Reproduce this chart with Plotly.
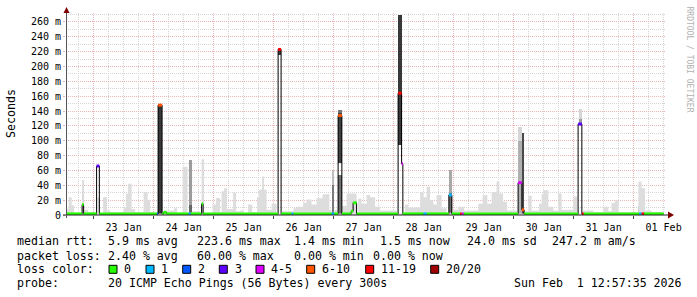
import plotly.graph_objects as go
import pandas as pd

# ---------------- data ----------------
BASE = pd.Timestamp("2026-01-23 00:00:00")          # hours below are relative to this
T_END = pd.Timestamp("2026-02-01 12:57:35")
T_START = T_END - pd.Timedelta(days=10)

# light "smoke" envelope (upper edge, ms) starting at each hour mark
smoke_h = [-10.8, -10.0, -8.8, -7.8, -6.2, -4.6, -3.8, -2.2, 0.6, 1.6, 2.4, 3.8, 5.4, 6.6,
           12.2, 13.0, 13.8, 15.2, 16.6, 20.0, 21.6, 22.6, 25.4, 28.2, 32.2, 33.4, 35.6, 37.6,
           39.4, 42.6, 43.2, 44.2, 47.6, 49.0, 50.6, 51.2, 52.2, 53.4, 55.8, 57.0, 58.6, 59.8,
           61.8, 63.4, 65.4, 66.2, 67.4, 68.2, 69.2, 71.2, 73.2, 75.2, 79.9, 81.2, 83.9, 85.2,
           87.2, 89.2, 91.6, 94.3, 95.2, 96.3, 97.9, 99.3, 101.2, 105.2, 105.8, 107.2, 109.2,
           110.6, 112.6, 114.6, 121.4, 124.6, 125.8, 130.6, 131.9, 133.2, 134.6, 135.9, 137.2,
           139.2, 141.2, 143.9, 145.9, 148.2, 153.9, 155.6, 157.5, 159.2, 161.2, 162.3, 163.8,
           165.4, 169.4, 172.2, 173.9, 175.2, 178.2, 179.2, 179.9, 181.9, 183.9, 185.9, 187.2,
           191.9, 193.5, 195.6, 199.9, 203.9, 205.9, 207.2, 208.6, 209.9, 217.9, 219.2, 220.6,
           223.2]
smoke_ms = [8, 24, 13, 3, 2, 47, 7, 4, 2, 24, 2, 24, 6, 4,
            10, 29, 42, 8, 4, 31, 20, 4, 2, 6, 9, 3, 65, 3,
            5, 2, 75, 3, 14, 23, 4, 32, 36, 8, 30, 5, 6, 3,
            14, 4, 24, 34, 52, 34, 7, 15, 2, 5, 9, 11, 17, 21,
            14, 22.5, 28, 7, 2, 7, 2, 12, 29, 3, 22, 15, 27,
            24, 11, 6, 2, 14, 10, 31, 24, 38, 20, 14, 27,
            9, 3, 7, 11, 6, 15, 27, 15, 31, 45, 29, 18,
            6, 2, 5, 26, 6, 15, 28, 33.5, 11, 6, 29, 7,
            25, 2, 6, 4, 11, 5, 16.5, 20, 4, 45, 36, 6,
            4]
SMOKE_END_H = 228.0

# denser smoke blocks around the spikes
blk_start = [-4.6, 25.8, 38.0, 38.0, 43.2, 73.8, 95.2, 95.2, 97.8, 97.8, 97.8, 121.8,
             142.1, 142.1, 169.9, 169.9, 171.3, 194.0, 194.0, 217.9]
blk_end = [-3.8, 27.4, 39.4, 39.4, 44.2, 75.0, 96.3, 96.3, 99.3, 99.3, 99.3, 123.2,
           143.3, 143.3, 171.3, 171.3, 172.2, 195.4, 195.4, 219.2]
blk_lo = [20, 0, 13, 0, 8, 215, 40, 0, 137, 70, 0, 94, 30, 0, 100, 0, 0, 129, 121, 0]
blk_hi = [32, 150, 74, 13, 20, 224, 61, 40, 141, 137, 54, 270, 60, 30, 119, 100, 111, 143, 129, 12]
blk_shade = ["#a8a8a8", "#383838", "#9c9c9c", "#666666", "#b4b4b4", "#3c3c3c", "#bdbdbd",
             "#7a7a7a", "#777777", "#404040", "#6e6e6e", "#383838", "#a8a8a8", "#6a6a6a",
             "#d6d6d6", "#b0b0b0", "#4a4a4a", "#d6d6d6", "#999999", "#bbbbbb"]

# median rtt segments: start hour, value (ms), loss class index
med_h = [-10.8, -4.6, -4.0, 1.2, 2.3, 25.4, 25.8, 27.4, 28.0, 29.2, 38.0, 38.8, 43.2, 43.8,
         73.8, 75.0, 79.2, 79.9, 95.2, 96.2, 97.8, 99.3, 103.0, 103.8, 105.2, 121.8, 123.2,
         123.7, 132.0, 133.2, 142.1, 143.3, 146.6, 147.2, 148.0, 169.8, 171.3, 172.2, 193.8,
         195.3, 196.0, 218.2, 219.2, 220.2]
med_ms = [1.5, 14, 1.5, 66, 1.5, 1.5, 148, 1.5, 3.5, 1.5, 1.5, 1.5, 15, 1.5,
          223, 1.5, 1.5, 1.5, 1.5, 1.5, 134, 1.5, 5, 16.5, 1.5, 164, 69,
          1.5, 1.5, 1.5, 27, 1.5, 1.5, 1.5, 1.5, 43.5, 7, 1.5, 122.5,
          1.5, 1.5, 1.5, 1.5, 1.5]
med_loss = [0, 0, 0, 3, 0, 2, 5, 0, 0, 0, 1, 0, 0, 0,
            6, 0, 1, 0, 1, 0, 5, 0, 0, 0, 0, 6, 4,
            0, 1, 0, 1, 0, 6, 4, 0, 4, 5, 0, 3,
            6, 0, 1, 6, 0]
MED_END_H = 228.0

loss_labels = ["0", "1", "2", "3", "4-5", "6-10", "11-19", "20/20"]
loss_colors = ["#26ff00", "#00b8ff", "#0059ff", "#5e00ff", "#dd00ff", "#ff5500", "#ff0000", "#a10000"]

y_tickvals = [0, 20, 40, 60, 80, 100, 120, 140, 160, 180, 200, 220, 240, 260]
y_ticktext = ["0", "20 m", "40 m", "60 m", "80 m", "100 m", "120 m", "140 m", "160 m",
              "180 m", "200 m", "220 m", "240 m", "260 m"]

rtt_stats = ["5.9 ms avg", "223.6 ms max", "1.4 ms min", "1.5 ms now", "24.0 ms sd", "247.2 m am/s"]
loss_stats = ["2.40 % avg", "60.00 % max", "0.00 % min", "0.00 % now"]
probe_text = "20 ICMP Echo Pings (56 Bytes) every 300s"
stamp_text = "Sun Feb\u00a0\u00a01 12:57:35 2026"

# ---------------- layout helpers ----------------
W, H = 697, 297
ML, MR, MT, MB = 66, 31, 13, 82
PW, PH = W - ML - MR, H - MT - MB
Y_TOP = 272.1
MONO = "DejaVu Sans Mono"


def px(x):
    return (x - ML) / PW


def py(y):
    return (H - MB - y) / PH


def T(h):
    return BASE + pd.Timedelta(hours=h)


fig = go.Figure()

# light smoke envelope
sx = [T(h) for h in smoke_h] + [T(SMOKE_END_H)]
sy = list(smoke_ms) + [smoke_ms[-1]]
fig.add_trace(go.Scatter(x=sx, y=sy, mode="lines", line=dict(width=0, shape="hv"),
                         fill="tozeroy", fillcolor="#dddddd", hoverinfo="skip"))

# denser smoke blocks
fig.add_trace(go.Bar(
    x=[T((s + e) / 2) for s, e in zip(blk_start, blk_end)],
    y=[h - l for l, h in zip(blk_lo, blk_hi)],
    base=blk_lo,
    width=[(e - s) * 3600 * 1000 for s, e in zip(blk_start, blk_end)],
    marker=dict(color=blk_shade, line=dict(width=0)),
    opacity=1, hoverinfo="skip"))

# black median step line
mx = [T(h) for h in med_h] + [T(MED_END_H)]
my = list(med_ms) + [med_ms[-1]]
fig.add_trace(go.Scatter(x=mx, y=my, mode="lines", line=dict(color="#000000", width=1, shape="hv"),
                         hoverinfo="skip"))

# loss-coloured median segments
for k, col in enumerate(loss_colors):
    xs, ys = [], []
    for i, lc in enumerate(med_loss):
        if lc == k:
            xs += [mx[i], mx[i + 1], None]
            ys += [med_ms[i], med_ms[i], None]
    if xs:
        fig.add_trace(go.Scatter(x=xs, y=ys, mode="lines", line=dict(color=col, width=3),
                                 connectgaps=False, hoverinfo="skip"))

MGRID = "#ebb6b6"
GRID = "#d6d6d6"
DASH = "1px,1px"

fig.update_xaxes(
    type="date", range=[T_START, T_END],
    tick0="2026-01-23", dtick=86400000, tickformat="%d %b", ticklabelmode="period",
    ticks="outside", ticklen=3, tickcolor="#444444",
    tickfont=dict(family=MONO, size=10, color="#000000"),
    showgrid=True, gridcolor=MGRID, griddash=DASH, gridwidth=1,
    minor=dict(tick0="2026-01-23", dtick=6 * 3600000, showgrid=True, gridcolor=GRID,
               griddash=DASH, ticks=""),
    showline=False, zeroline=False, fixedrange=True)

fig.update_yaxes(
    range=[0, Y_TOP], tickvals=y_tickvals, ticktext=y_ticktext,
    ticks="outside", ticklen=2, tickcolor=MGRID,
    tickfont=dict(family=MONO, size=10, color="#000000"),
    showgrid=True, gridcolor=MGRID, griddash=DASH, gridwidth=1,
    minor=dict(dtick=10, showgrid=True, gridcolor=GRID, griddash=DASH, ticks=""),
    showline=False, zeroline=False, fixedrange=True)

shapes = []
# axes lines and arrows
shapes.append(dict(type="line", xref="paper", yref="paper", x0=px(63), x1=px(668), y0=py(215), y1=py(215),
                   line=dict(color="#222222", width=1)))
shapes.append(dict(type="line", xref="paper", yref="paper", x0=px(66.5), x1=px(66.5), y0=py(218), y1=py(12),
                   line=dict(color="#555555", width=1)))
shapes.append(dict(type="path", xref="paper", yref="paper",
                   path=f"M {px(668)} {py(211.5)} L {px(674)} {py(215)} L {px(668)} {py(218.5)} Z",
                   fillcolor="#7f0000", line=dict(width=0)))
shapes.append(dict(type="path", xref="paper", yref="paper",
                   path=f"M {px(63.5)} {py(13)} L {px(66.5)} {py(7)} L {px(69.5)} {py(13)} Z",
                   fillcolor="#7f0000", line=dict(width=0)))

annotations = []


def txt(x, y, s, size=11.6, color="#000000", **kw):
    d = dict(x=px(x), y=py(y), xref="paper", yref="paper", text=s, showarrow=False,
             xanchor="left", yanchor="middle", font=dict(family=MONO, size=size, color=color))
    d.update(kw)
    return d


Y1, Y2, Y3, Y4 = 241.5, 255.5, 269.3, 283.0
annotations.append(txt(15, Y1, "median rtt:"))
for xpos, s in zip([106.3, 195, 292.3, 378.3, 464.7, 550], rtt_stats):
    annotations.append(txt(xpos, Y1, s))
annotations.append(txt(15, Y2, "packet loss:"))
for xpos, s in zip([106.3, 195, 292.3, 371.3], loss_stats):
    annotations.append(txt(xpos, Y2, s))
annotations.append(txt(15, Y3, "loss color:"))
box_x = [109, 146, 182.7, 219.3, 256, 306.7, 365.7, 430.7]
for bx, lab, col in zip(box_x, loss_labels, loss_colors):
    shapes.append(dict(type="rect", xref="paper", yref="paper", x0=px(bx), x1=px(bx + 8),
                       y0=py(273.3), y1=py(265.3), fillcolor=col, line=dict(color="#000000", width=1)))
    annotations.append(txt(bx + 13.3, Y3, lab))
annotations.append(txt(15, Y4, "probe:"))
annotations.append(txt(106.3, Y4, probe_text))
annotations.append(txt(512.3, Y4, stamp_text))

# y title and watermark
annotations.append(dict(x=px(11), y=py(114), xref="paper", yref="paper", text="Seconds", showarrow=False,
                        textangle=-90, xanchor="center", yanchor="middle",
                        font=dict(family=MONO, size=11.6, color="#000000")))
annotations.append(dict(x=px(688.5), y=py(59), xref="paper", yref="paper", text="RRDTOOL / TOBI OETIKER",
                        showarrow=False, textangle=90, xanchor="center", yanchor="middle",
                        font=dict(family=MONO, size=8, color="#b0b0b0")))

fig.update_layout(
    width=W, height=H, margin=dict(l=ML, r=MR, t=MT, b=MB, pad=0),
    paper_bgcolor="#ffffff", plot_bgcolor="#ffffff",
    showlegend=False, barmode="overlay", bargap=0,
    shapes=shapes, annotations=annotations, hovermode=False)

fig.write_html("out.html")
